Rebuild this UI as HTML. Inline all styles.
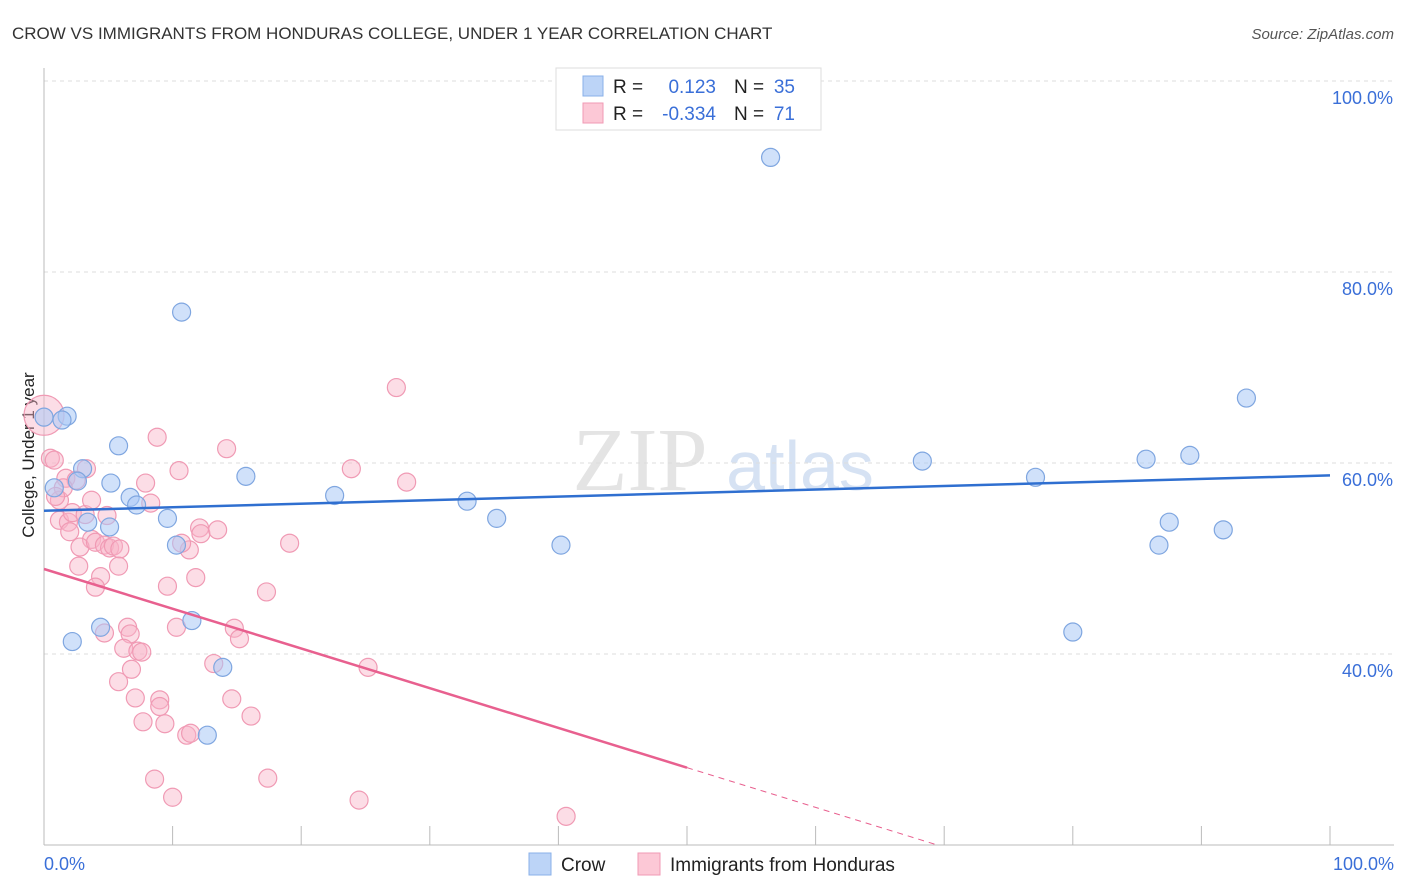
<!DOCTYPE html>
<html><head><meta charset="utf-8"><style>
body{margin:0;background:#fff;width:1406px;height:892px;overflow:hidden;font-family:"Liberation Sans",sans-serif}
svg{display:block}
</style></head><body>
<svg id="chart" width="1406" height="892" xmlns="http://www.w3.org/2000/svg">
<text x="12" y="39" font-size="17" fill="#333">CROW VS IMMIGRANTS FROM HONDURAS COLLEGE, UNDER 1 YEAR CORRELATION CHART</text>
<text x="1394" y="39" font-size="15" fill="#555" font-style="italic" text-anchor="end">Source: ZipAtlas.com</text>
<text x="0" y="0" transform="translate(34,455) rotate(-90)" font-size="17" fill="#222" text-anchor="middle">College, Under 1 year</text>
<text x="640" y="490" font-size="90" fill="#e4e4e4" font-family="Liberation Serif,serif" text-anchor="middle">ZIP</text>
<text x="800" y="490" font-size="70" fill="#d6e2f3" text-anchor="middle">atlas</text>
<g id="grid"></g><g id="axes"></g><g id="pts"></g><g id="lines"></g>
<g>
<rect x="556" y="68" width="265" height="62" fill="#fff" stroke="#ddd"/>
<rect x="583" y="76" width="20" height="20" fill="#bcd4f7" stroke="#8ab0e8"/>
<rect x="583" y="103" width="20" height="20" fill="#fcc8d6" stroke="#f09ab4"/>
<text x="613" y="93" font-size="19" fill="#222">R =</text><text x="716" y="93" font-size="19" fill="#3a6fd8" text-anchor="end">0.123</text>
<text x="734" y="93" font-size="19" fill="#222">N =</text><text x="795" y="93" font-size="19" fill="#3a6fd8" text-anchor="end">35</text>
<text x="613" y="120" font-size="19" fill="#222">R =</text><text x="716" y="120" font-size="19" fill="#3a6fd8" text-anchor="end">-0.334</text>
<text x="734" y="120" font-size="19" fill="#222">N =</text><text x="795" y="120" font-size="19" fill="#3a6fd8" text-anchor="end">71</text>
</g>
<g>
<rect x="529" y="853" width="22" height="22" fill="#bcd4f7" stroke="#8ab0e8"/>
<text x="561" y="871" font-size="19" fill="#222">Crow</text>
<rect x="638" y="853" width="22" height="22" fill="#fcc8d6" stroke="#f09ab4"/>
<text x="670" y="871" font-size="19" fill="#222">Immigrants from Honduras</text>
</g>
</svg>
<script>
const crowX=[0,1.8,1.4,3.0,2.6,0.8,5.2,5.8,3.4,5.1,6.7,7.2,9.6,10.3,10.7,15.7,11.5,4.4,2.2,13.9,12.7,22.6,32.9,35.2,40.2,56.5,68.3,77.1,85.7,89.1,93.5,87.5,86.7,91.7,80.0];
const crowY=[64.8,64.9,64.5,59.4,58.1,57.4,57.9,61.8,53.8,53.3,56.4,55.6,54.2,51.4,75.8,58.6,43.5,42.8,41.3,38.6,31.5,56.6,56.0,54.2,51.4,92.0,60.2,58.5,60.4,60.8,66.8,53.8,51.4,53.0,42.3];
const honX=[0,0.5,0.8,1.7,1.2,2.5,3.3,1.2,1.9,2.2,3.2,3.7,2.0,2.8,4.0,4.7,5.1,5.4,5.9,4.9,4.4,4.0,2.7,5.8,7.9,8.3,8.8,10.5,14.2,12.1,12.2,13.5,11.3,10.7,11.8,9.6,6.5,6.7,4.7,6.2,7.3,7.6,6.8,5.8,7.1,9.0,9.0,7.7,9.4,10.3,14.8,15.2,13.2,14.6,16.1,11.1,11.4,8.6,10.0,17.3,19.1,23.9,27.4,28.2,25.2,17.4,24.5,40.6,1.5,3.7,0.9];
const honY=[65.0,60.5,60.3,58.4,56.1,58.2,59.4,54.0,53.8,54.8,54.6,52.0,52.8,51.2,51.7,51.4,51.1,51.3,51.0,54.5,48.1,47.0,49.2,49.2,57.9,55.8,62.7,59.2,61.5,53.2,52.6,53.0,50.9,51.6,48.0,47.1,42.8,42.1,42.2,40.6,40.3,40.2,38.4,37.1,35.4,35.2,34.5,32.9,32.7,42.8,42.7,41.6,39.0,35.3,33.5,31.5,31.7,26.9,25.0,46.5,51.6,59.4,67.9,58.0,38.6,27.0,24.7,23.0,57.4,56.1,56.5];
const yTicks=[100,80,60,40];
const crowTrend=[55.0,58.7];
const honTrend=[48.9,-0.416];
const NS='http://www.w3.org/2000/svg';
const X=v=>44+v*12.86, Y=v=>463-(v-60)*9.55;
function mk(t,a,p){const e=document.createElementNS(NS,t);for(const k in a)e.setAttribute(k,a[k]);document.getElementById(p).appendChild(e);return e;}
yTicks.forEach(t=>{
 const l=mk('line',{x1:44,x2:1394,y1:Y(t),y2:Y(t),stroke:'#ddd','stroke-dasharray':'4,4'},'grid');
 
 
 const tx=mk('text',{x:1393,y:Y(t)+23,'font-size':18,fill:'#3a6fd8','text-anchor':'end'},'grid');tx.textContent=t.toFixed(1)+'%';
 
 
});
mk('line',{x1:44,x2:44,y1:68,y2:845,stroke:'#bbb'},'axes');
mk('line',{x1:44,x2:1394,y1:845,y2:845,stroke:'#bbb'},'axes');
for(let i=0;i<=10;i++){const l=mk('line',{x1:X(i*10),x2:X(i*10),y1:826,y2:845,stroke:'#bbb'},'axes');
 
 }
let a=mk('text',{x:44,y:870,'font-size':18,fill:'#3a6fd8'},'axes');a.textContent='0.0%';


a=mk('text',{x:1394,y:870,'font-size':18,fill:'#3a6fd8','text-anchor':'end'},'axes');a.textContent='100.0%';


honX.forEach((x,i)=>{const c=mk('circle',{cx:X(x),cy:Y(honY[i]),r:i===0?20:9,fill:'rgba(248,180,200,0.45)',stroke:'#f09ab4','stroke-width':1.2},'pts');
 
 });
crowX.forEach((x,i)=>{const c=mk('circle',{cx:X(x),cy:Y(crowY[i]),r:9,fill:'rgba(170,200,245,0.55)',stroke:'#7fa6e0','stroke-width':1.2},'pts');
 
 });
let l=mk('line',{x1:X(0),y1:Y(crowTrend[0]),x2:X(100),y2:Y(crowTrend[1]),stroke:'#2f6fd0','stroke-width':2.5},'lines');


const hy=x=>honTrend[0]+honTrend[1]*x;
l=mk('line',{x1:X(0),y1:Y(hy(0)),x2:X(50),y2:Y(hy(50)),stroke:'#e8608f','stroke-width':2.5},'lines');


const xEnd=(20-honTrend[0])/honTrend[1];
l=mk('line',{x1:X(50),y1:Y(hy(50)),x2:X(xEnd),y2:Y(20),stroke:'#e8608f','stroke-width':1,'stroke-dasharray':'6,5'},'lines');


</script>
</body></html>
